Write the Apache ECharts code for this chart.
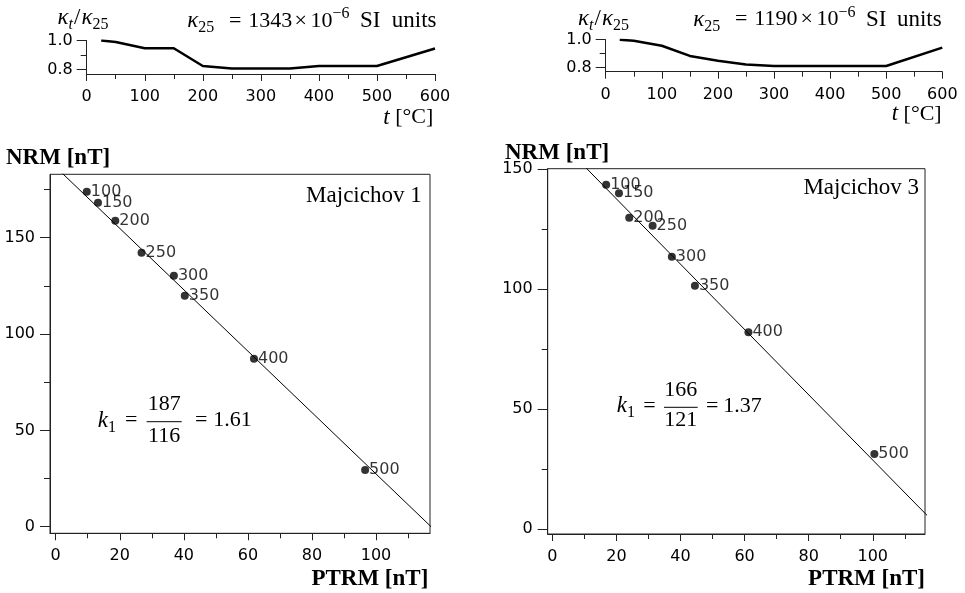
<!DOCTYPE html>
<html><head><meta charset="utf-8">
<script src="https://cdn.jsdelivr.net/npm/echarts@6/dist/echarts.min.js"></script>
<style>html,body{margin:0;padding:0;background:#fff}#c{width:965px;height:593px}</style>
</head><body><div id="c"></div>
<script>
// ---- top panels: kappa_t / kappa_25 vs temperature ----
const tempKappa1 = [25, 50, 100, 150, 200, 250, 300, 350, 400, 450, 500, 600];
const kappaRatio1 = [1.0, 0.99, 0.947, 0.947, 0.825, 0.807, 0.807, 0.807, 0.825, 0.825, 0.825, 0.945];
const tempKappa3 = [25, 50, 100, 150, 200, 250, 300, 350, 400, 450, 500, 600];
const kappaRatio3 = [1.0, 0.993, 0.957, 0.884, 0.85, 0.822, 0.812, 0.812, 0.812, 0.812, 0.812, 0.943];
const kappaTicks = [0.8, 1.0];
const kappaMinorTicks = [0.9];

// ---- bottom panels: Arai diagrams (NRM vs PTRM) ----
const stepLabels = ['100', '150', '200', '250', '300', '350', '400', '500'];
const ptrm1 = [9.7, 13.2, 18.6, 26.8, 36.9, 40.3, 61.9, 96.6];
const nrm1  = [173.8, 168.1, 158.8, 142.2, 130.3, 119.9, 87.2, 29.4];
const ptrm3 = [16.8, 20.8, 24.0, 31.3, 37.3, 44.5, 61.2, 100.5];
const nrm3  = [143.6, 140.0, 129.8, 126.5, 113.6, 101.5, 82.1, 31.4];
const fitLine1 = [[0, 186.7], [117.2, 0]];
const fitLine3 = [[0, 164.9], [121.2, 0]];
const ptrmTicks = [0, 20, 40, 60, 80, 100];
const ptrmMinorTicks = [10, 30, 50, 70, 90, 110];
const nrmTicks = [0, 50, 100, 150];
const nrmMinorTicks1 = [25, 75, 125, 175];
const nrmMinorTicks3 = [25, 75, 125];

const AX = '#222';
const SANS = 'DejaVu Sans';
const SERIF = 'Liberation Serif';

function zip(a, b) { return a.map((v, i) => [v, b[i]]); }

function grid(left, top, width, height, box) {
  return { left, top, width, height, containLabel: false, outerBoundsMode: 'none',
    show: !!box, borderColor: '#222', borderWidth: 1, backgroundColor: 'transparent' };
}
function lbl(margin) {
  return { fontFamily: SANS, fontSize: 16, color: '#000', margin };
}
function majorAxis(gridIndex, position, min, max, ticks, tickLen, margin, fmt) {
  const a = {
    type: 'value', gridIndex, position, min, max,
    axisLine: { show: true, onZero: false, lineStyle: { color: AX, width: 1 } },
    axisTick: { show: true, length: tickLen, customValues: ticks, lineStyle: { color: AX } },
    axisLabel: Object.assign(lbl(margin), { customValues: ticks }),
    splitLine: { show: false }
  };
  if (fmt) a.axisLabel.formatter = fmt;
  return a;
}
function minorAxis(gridIndex, position, min, max, ticks, tickLen) {
  return {
    type: 'value', gridIndex, position, min, max,
    axisLine: { show: false, onZero: false },
    axisTick: { show: true, length: tickLen, customValues: ticks, lineStyle: { color: AX } },
    axisLabel: { show: false },
    splitLine: { show: false }
  };
}
function tempAxis(gridIndex) {
  return {
    type: 'value', gridIndex, position: 'bottom', min: 0, max: 600, interval: 100,
    axisLine: { show: true, onZero: false, lineStyle: { color: AX, width: 1 } },
    axisTick: { show: true, length: 7, lineStyle: { color: AX } },
    minorTick: { show: true, splitNumber: 2, length: 5, lineStyle: { color: AX } },
    axisLabel: lbl(15),
    splitLine: { show: false }, minorSplitLine: { show: false }
  };
}
const f1 = v => v.toFixed(1);

const rich = {
  i: { fontFamily: SERIF, fontStyle: 'italic', fontSize: 23, lineHeight: 30 },
  s: { fontFamily: SERIF, fontSize: 16, lineHeight: 16, verticalAlign: 'bottom' },
  si: { fontFamily: SERIF, fontStyle: 'italic', fontSize: 16, lineHeight: 16, verticalAlign: 'bottom' },
  sup: { fontFamily: SERIF, fontSize: 16, lineHeight: 16, verticalAlign: 'top' },
  sl: { fontFamily: SERIF, fontSize: 23, lineHeight: 30, padding: [0, 1, 0, 1] }
};
function txt(x, y, text, opts) {
  return { type: 'text', x, y, silent: true, z: 100,
    style: Object.assign({ text, fill: '#000', fontFamily: SERIF, fontSize: 22, lineHeight: 30,
      align: 'left', verticalAlign: 'middle', rich, legacy: false }, opts || {}) };
}
function bar(x1, x2, y) {
  return { type: 'line', silent: true, z: 100, shape: { x1, y1: y, x2, y2: y },
    style: { stroke: '#000', lineWidth: 1 } };
}
// kappa_25 annotation built from pieces placed like the original typesetting
function kappaNote(dx, y, value, right) {
  return [
    txt(187.3 + dx, y, '{i|κ}{s|25}'),
    txt(229 + dx, y, '='),
    txt(248.3 + dx, y, value),
    txt(294.5 + dx, y, '×'),
    txt(310.5 + dx, y, '10{sup|−6}'),
    txt(360 + dx, y, 'SI', { fontSize: 23 }),
    txt(right, y, 'units', { align: 'right', fontSize: 23 })
  ];
}

function scatterSeries(xi, yi, xs, ys) {
  return {
    type: 'scatter', xAxisIndex: xi, yAxisIndex: yi, symbolSize: 8, z: 5,
    itemStyle: { color: '#000' },
    data: xs.map((v, i) => ({ name: stepLabels[i], value: [v, ys[i]] })),
    label: { show: true, position: 'right', distance: 0, formatter: '{b}',
      fontFamily: SANS, fontSize: 16, color: '#000' },
    labelLayout: { hideOverlap: false }
  };
}
function lineSeries(xi, yi, data, width) {
  return { type: 'line', xAxisIndex: xi, yAxisIndex: yi, data, showSymbol: false, symbol: 'none',
    lineStyle: { color: '#000', width }, itemStyle: { color: '#000' }, clip: true, z: 3 };
}

const chart = echarts.init(document.getElementById('c'), null, { renderer: 'canvas' });
chart.setOption({
  animation: false,
  backgroundColor: '#fff',
  grid: [
    grid(86.7, 40.5, 348.3, 33.5, false),
    grid(605.7, 39.7, 336.6, 32, false),
    grid(50, 174.3, 380, 359, true),
    grid(547.7, 168.7, 377.3, 365.3, true)
  ],
  xAxis: [
    tempAxis(0),
    tempAxis(1),
    majorAxis(2, 'bottom', -1.78, 116.86, ptrmTicks, 7, 15),
    minorAxis(2, 'bottom', -1.78, 116.86, ptrmMinorTicks, 5),
    majorAxis(3, 'bottom', -1.44, 116.3, ptrmTicks, 7, 15),
    minorAxis(3, 'bottom', -1.44, 116.3, ptrmMinorTicks, 5)
  ],
  yAxis: [
    majorAxis(0, 'left', 0.77, 1.0, kappaTicks, 10, 14, f1),
    minorAxis(0, 'left', 0.77, 1.0, kappaMinorTicks, 6),
    majorAxis(1, 'left', 0.771, 1.0, kappaTicks, 10, 14, f1),
    minorAxis(1, 'left', 0.771, 1.0, kappaMinorTicks, 6),
    majorAxis(2, 'left', -3.42, 182.9, nrmTicks, 10, 15),
    minorAxis(2, 'left', -3.42, 182.9, nrmMinorTicks1, 6),
    majorAxis(3, 'left', -1.96, 150.25, nrmTicks, 10, 15),
    minorAxis(3, 'left', -1.96, 150.25, nrmMinorTicks3, 6)
  ],
  series: [
    lineSeries(0, 0, zip(tempKappa1, kappaRatio1), 2.5),
    lineSeries(1, 2, zip(tempKappa3, kappaRatio3), 2.5),
    lineSeries(2, 4, fitLine1, 1),
    scatterSeries(2, 4, ptrm1, nrm1),
    lineSeries(4, 6, fitLine3, 1),
    scatterSeries(4, 6, ptrm3, nrm3)
  ],
  graphic: [
    // top-left
    txt(57.5, 18, '{i|κ}{si|t}{sl|/}{i|κ}{s|25}'),
    ...kappaNote(0, 20.8, '1343', 436.5),
    txt(433.3, 117.5, '{i|t} [°C]', { align: 'right' }),
    // top-right
    txt(578, 19, '{i|κ}{si|t}{sl|/}{i|κ}{s|25}'),
    ...kappaNote(506, 19.5, '1190', 941.7),
    txt(941.7, 114, '{i|t} [°C]', { align: 'right' }),
    // bottom-left
    txt(6, 158.5, 'NRM [nT]', { fontWeight: 'bold', fontSize: 23 }),
    txt(428.3, 579.5, 'PTRM [nT]', { fontWeight: 'bold', fontSize: 23, align: 'right' }),
    txt(421.7, 195.5, 'Majcichov 1', { align: 'right', fontSize: 23 }),
    txt(97.7, 420.5, '{i|k}{s|1}'),
    txt(125, 420.5, '='),
    txt(164.2, 404.7, '187', { align: 'center' }),
    bar(146.7, 181.7, 421.7),
    txt(164.2, 436.7, '116', { align: 'center' }),
    txt(195, 420.5, '='),
    txt(213.3, 420.5, '1.61'),
    // bottom-right
    txt(505, 153, 'NRM [nT]', { fontWeight: 'bold', fontSize: 23 }),
    txt(925, 579.5, 'PTRM [nT]', { fontWeight: 'bold', fontSize: 23, align: 'right' }),
    txt(919, 187.5, 'Majcichov 3', { align: 'right', fontSize: 23 }),
    txt(616.7, 405.8, '{i|k}{s|1}'),
    txt(643.3, 405.8, '='),
    txt(680.8, 390.5, '166', { align: 'center' }),
    bar(664, 697.7, 407.3),
    txt(680.8, 420, '121', { align: 'center' }),
    txt(706, 405.8, '='),
    txt(723.3, 405.8, '1.37')
  ]
});
</script>
</body></html>
